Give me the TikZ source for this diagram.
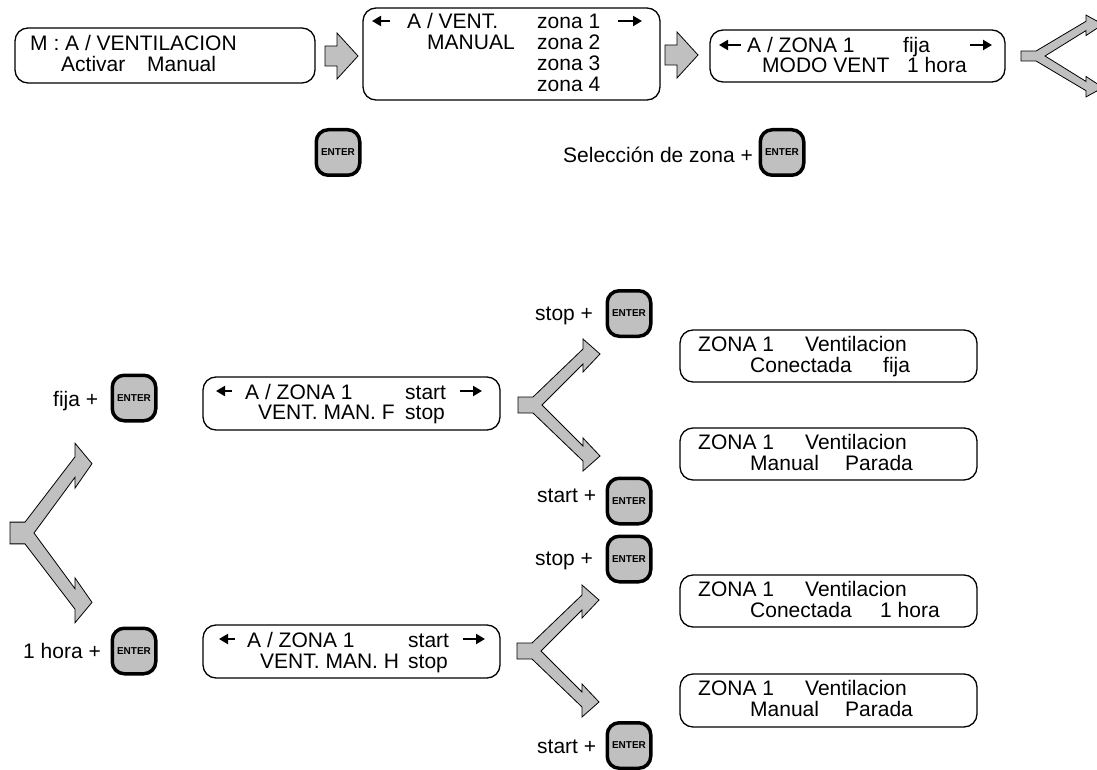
\documentclass[tikz,border=0pt]{standalone}
\usepackage{fontspec}
\setmainfont{Liberation Sans}
\usetikzlibrary{arrows.meta}
\definecolor{btngray}{HTML}{C0C0C0}
\newcommand\forkshape[4]{%
  \filldraw[blockarrow, shift={(#1,#2)}, xscale=#3, yscale=#4]
    (0,-8) -- (15,-8) -- (65,-56) -- (65,-66) -- (82,-51) -- (65,-33) -- (65,-41)
    -- (24,0) -- (65,41) -- (65,33) -- (82,51) -- (65,66) -- (65,56) -- (15,8) -- (0,8) -- cycle;}
\begin{document}
\begin{tikzpicture}[x=1pt,y=-1pt,
  lcd/.style={draw=black, line width=1.3pt, rounded corners=13pt, fill=white, inner sep=0pt},
  txt/.style={anchor=base west, inner sep=0pt, font=\fontsize{21}{21}\selectfont},
  enterkey/.style={draw=black, line width=3.5pt, rounded corners=12pt, fill=btngray, inner sep=0pt,
    minimum width=43.5pt, minimum height=45.5pt, font=\bfseries\fontsize{10}{10}\selectfont},
  blockarrow/.style={fill=btngray, draw=black, line width=0.8pt},
  lcdarr/.style={line width=2pt, -{Triangle[length=9pt,width=10pt]}}
]
\useasboundingbox (0,0) rectangle (1097,770);

% ---------- top row ----------
\node[lcd, minimum width=300pt, minimum height=55pt] (b1) at (165,55.5) {};
\node[txt] (b1a) at (30,51) {M : A / VENTILACION};
\node[txt] (b1b) at (61,72) {Activar};
\node[txt] (b1c) at (147,72) {Manual};

\filldraw[blockarrow] (325,46) -- (337,46) -- (337,33) -- (358,56) -- (337,79) -- (337,66) -- (325,66) -- cycle;

\node[lcd, minimum width=297pt, minimum height=92pt] (b2) at (511.5,54) {};
\coordinate (b2l1) at (390,21);
\coordinate (b2l0) at (372,21);
\draw[lcdarr] (b2l1) -- (b2l0);
\node[txt] (b2a) at (407,29) {A / VENT.};
\node[txt] (b2z1) at (537,29) {zona 1};
\coordinate (b2r0) at (618,21);
\coordinate (b2r1) at (642,21);
\draw[lcdarr] (b2r0) -- (b2r1);
\node[txt] (b2b) at (427,50) {MANUAL};
\node[txt] (b2z2) at (537,50) {zona 2};
\node[txt] (b2z3) at (537,71) {zona 3};
\node[txt] (b2z4) at (537,92) {zona 4};

\filldraw[blockarrow] (665,45) -- (677,45) -- (677,32) -- (698,55) -- (677,78) -- (677,65) -- (665,65) -- cycle;

\node[lcd, minimum width=295pt, minimum height=52pt] (b3) at (857.5,56) {};
\coordinate (b3l1) at (741,45);
\coordinate (b3l0) at (719,45);
\draw[lcdarr] (b3l1) -- (b3l0);
\node[txt] (b3a) at (747,53) {A / ZONA 1};
\node[txt] (b3f) at (903,53) {fija};
\coordinate (b3r0) at (970,45);
\coordinate (b3r1) at (992,45);
\draw[lcdarr] (b3r0) -- (b3r1);
\node[txt] (b3b) at (762,73) {MODO VENT};
\node[txt] (b3h) at (907,73) {1 hora};

\forkshape{1021}{56}{1}{0.62}

\node[enterkey] (e1) at (338,152.5) {ENTER};
\node[txt] (sel) at (563,163) {Selección de zona +};
\node[enterkey] (e2) at (782,152.5) {ENTER};

% ---------- left fork ----------
\forkshape{10}{533}{1}{1.36}
\node[txt] (lf) at (53,406) {fija +};
\node[enterkey] (ef) at (134,398) {ENTER};
\node[txt] (lh) at (23,658) {1 hora +};
\node[enterkey] (eh) at (134,651) {ENTER};

% ---------- F branch ----------
\node[lcd, minimum width=297pt, minimum height=53pt] (bf) at (351.5,403.5) {};
\coordinate (bfl1) at (232,391);
\coordinate (bfl0) at (216,391);
\draw[lcdarr] (bfl1) -- (bfl0);
\node[txt] (bfa) at (245,399) {A / ZONA 1};
\node[txt] (bfs) at (405,399) {start};
\coordinate (bfr0) at (460,391);
\coordinate (bfr1) at (482,391);
\draw[lcdarr] (bfr0) -- (bfr1);
\node[txt] (bfb) at (258,419) {VENT. MAN. F};
\node[txt] (bft) at (405,419) {stop};

\forkshape{518}{405}{1}{1}
\node[txt] (sf) at (535,320) {stop +};
\node[enterkey] (esf) at (629,313.5) {ENTER};
\node[txt] (tf) at (537,502) {start +};
\node[enterkey] (etf) at (629,501) {ENTER};

\node[lcd, minimum width=297pt, minimum height=52pt] (c1) at (828.5,356) {};
\node[txt] (c1a) at (698,351) {ZONA 1};
\node[txt] (c1b) at (805,351) {Ventilacion};
\node[txt] (c1c) at (750,372) {Conectada};
\node[txt] (c1d) at (883,372) {fija};

\node[lcd, minimum width=297pt, minimum height=52pt] (m1) at (828.5,454) {};
\node[txt] (m1a) at (698,449) {ZONA 1};
\node[txt] (m1b) at (805,449) {Ventilacion};
\node[txt] (m1c) at (750,470) {Manual};
\node[txt] (m1d) at (845,470) {Parada};

% ---------- H branch ----------
\node[lcd, minimum width=297pt, minimum height=53pt] (bh) at (351.5,651.5) {};
\coordinate (bhl1) at (235,639);
\coordinate (bhl0) at (219,639);
\draw[lcdarr] (bhl1) -- (bhl0);
\node[txt] (bha) at (247,647) {A / ZONA 1};
\node[txt] (bhs) at (408,647) {start};
\coordinate (bhr0) at (463,639);
\coordinate (bhr1) at (485,639);
\draw[lcdarr] (bhr0) -- (bhr1);
\node[txt] (bhb) at (260,668) {VENT. MAN. H};
\node[txt] (bht) at (408,668) {stop};

\forkshape{517}{651}{1}{1}
\node[txt] (sh) at (535,565) {stop +};
\node[enterkey] (esh) at (629,559) {ENTER};
\node[txt] (th) at (537,753) {start +};
\node[enterkey] (eth) at (629,745.5) {ENTER};

\node[lcd, minimum width=297pt, minimum height=52pt] (c2) at (828.5,601) {};
\node[txt] (c2a) at (698,596) {ZONA 1};
\node[txt] (c2b) at (805,596) {Ventilacion};
\node[txt] (c2c) at (750,617) {Conectada};
\node[txt] (c2d) at (880,617) {1 hora};

\node[lcd, minimum width=297pt, minimum height=53pt] (m2) at (828.5,700.5) {};
\node[txt] (m2a) at (698,695) {ZONA 1};
\node[txt] (m2b) at (805,695) {Ventilacion};
\node[txt] (m2c) at (750,716) {Manual};
\node[txt] (m2d) at (845,716) {Parada};
\end{tikzpicture}
\end{document}
